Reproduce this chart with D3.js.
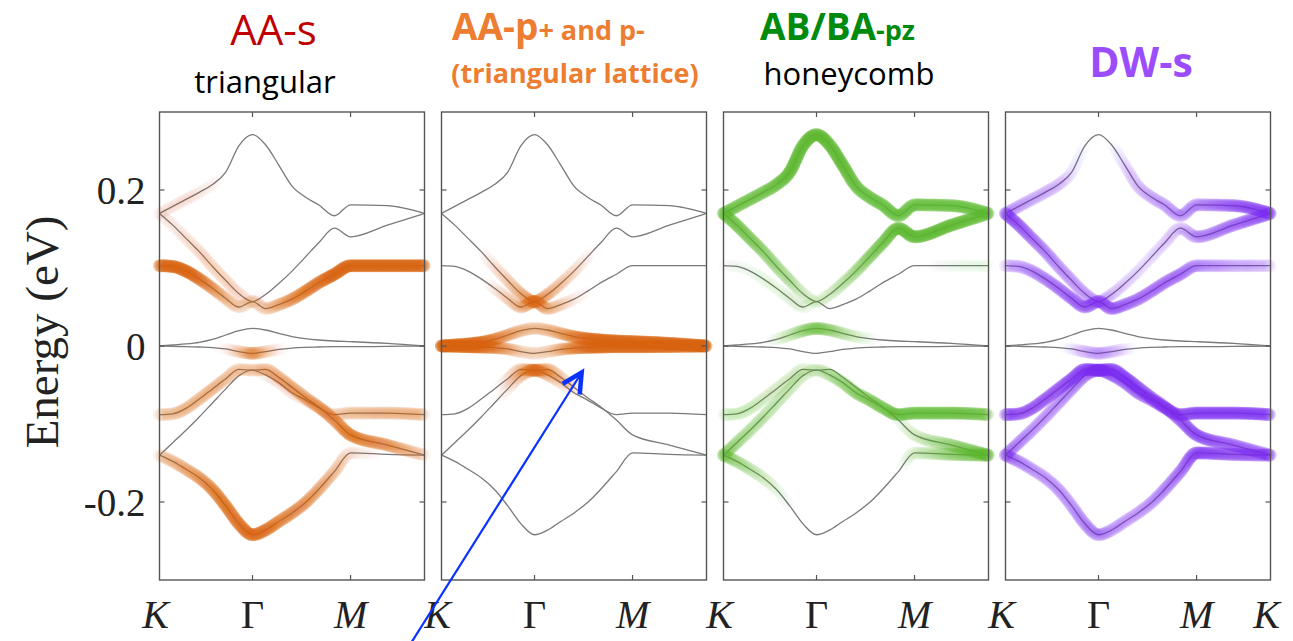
<!DOCTYPE html>
<html>
<head>
<meta charset="utf-8">
<script src="https://cdn.jsdelivr.net/npm/d3@7"></script>
<style>
  body { margin: 0; background: #fff; }
  text { font-family: "Liberation Serif", serif; }
  .ttl { font-family: "Open Sans", sans-serif; }
</style>
</head>
<body>
<svg id="chart"></svg>
<script>
const width = 1293;
const height = 641;

// k path K -> Gamma -> M -> K, normalised to 0..1
const kGrid = [0, 0.05, 0.10, 0.15, 0.20, 0.25, 0.30, 0.351, 0.40, 0.45, 0.50, 0.55, 0.60, 0.66, 0.721, 0.86, 1.0];
const kTicks = [0, 0.351, 0.721, 1];
const kLabels = ["K", "Γ", "M", "K"];
const energyTicks = [-0.2, 0, 0.2];

// band energies (eV) read at kGrid
const band1 = [-0.140, -0.148, -0.158, -0.169, -0.184, -0.205, -0.228, -0.242, -0.236, -0.225, -0.214, -0.201, -0.184, -0.161, -0.137, -0.139, -0.140];
const band2 = [-0.140, -0.124, -0.108, -0.091, -0.073, -0.055, -0.038, -0.031, -0.037, -0.047, -0.060, -0.069, -0.079, -0.088, -0.086, -0.086, -0.088];
const band3 = [-0.088, -0.087, -0.080, -0.068, -0.055, -0.042, -0.030, -0.031, -0.030, -0.040, -0.053, -0.066, -0.078, -0.095, -0.114, -0.127, -0.140];
const band4 = [0, -0.0003, -0.0009, -0.0013, -0.002, -0.0038, -0.0072, -0.0094, -0.0072, -0.0043, -0.0026, -0.0017, -0.0013, -0.0009, -0.0009, -0.0005, 0];
const band5 = [0, 0.0013, 0.0026, 0.0047, 0.0085, 0.0141, 0.0196, 0.0226, 0.0205, 0.0162, 0.012, 0.0094, 0.0077, 0.0064, 0.0056, 0.0034, 0];
const band6 = [0.103, 0.102, 0.096, 0.086, 0.074, 0.061, 0.050, 0.057, 0.048, 0.053, 0.060, 0.070, 0.081, 0.092, 0.103, 0.103, 0.103];
const band7 = [0.170, 0.155, 0.138, 0.121, 0.102, 0.084, 0.067, 0.057, 0.066, 0.080, 0.096, 0.114, 0.132, 0.151, 0.140, 0.155, 0.170];
const band8 = [0.170, 0.179, 0.188, 0.197, 0.207, 0.223, 0.257, 0.271, 0.258, 0.232, 0.205, 0.191, 0.181, 0.167, 0.181, 0.180, 0.170];
const bands = [band1, band2, band3, band4, band5, band6, band7, band8];

// orbital weight of each band (band1..band8) at kGrid, one table per panel
const zero = kGrid.map(() => 0);
const weightsAAs = [
  [.40, .50, .60, .70, .80, .85, .90, .95, .90, .80, .75, .70, .60, .45, .20, 0, 0],
  [0, 0, 0, 0, 0, 0, 0, 0, .15, .20, .20, .25, .30, .35, .45, .50, .50],
  [.45, .45, .50, .50, .50, .45, .40, .40, .50, .55, .60, .60, .65, .75, .85, .70, .35],
  [0, 0, 0, 0, 0, .10, .40, .80, .40, .10, 0, 0, 0, 0, 0, 0, 0],
  zero,
  [1, 1, 1, .90, .70, .50, .35, .30, .40, .60, .75, .85, .90, 1, 1, 1, 1],
  [.15, .15, .20, .25, .30, .30, .25, .20, 0, 0, 0, 0, 0, 0, 0, 0, 0],
  [.15, .20, .20, .15, .10, 0, 0, 0, 0, 0, 0, 0, 0, 0, 0, 0, 0]
];
const weightsAAp = [
  zero,
  [0, 0, 0, 0, 0, .15, .45, .85, .50, .25, .05, 0, 0, 0, 0, 0, 0],
  [0, 0, 0, 0, 0, .20, .50, .85, .60, .35, .15, 0, 0, 0, 0, 0, 0],
  [1, 1, 1, .95, .85, .60, .35, .30, .35, .60, .85, .95, 1, 1, 1, 1, 1],
  [1, 1, 1, .95, .85, .65, .50, .45, .50, .65, .85, .95, 1, 1, 1, 1, 1],
  [0, 0, 0, 0, .15, .35, .55, .85, .55, .35, .15, .05, 0, 0, 0, 0, 0],
  [0, 0, 0, .05, .20, .35, .55, .85, .55, .40, .25, .10, 0, 0, 0, 0, 0],
  zero
];
const weightsABpz = [
  [.80, .60, .45, .30, .15, .05, 0, 0, 0, 0, 0, 0, 0, 0, .30, .70, .90],
  [.80, .60, .50, .45, .40, .35, .30, .30, .50, .65, .75, .80, .85, .90, .90, .90, .85],
  [.35, .35, .35, .30, .30, .30, .25, .10, .05, 0, 0, 0, 0, .10, .30, .70, .90],
  zero,
  [0, 0, 0, 0, .15, .40, .70, .85, .70, .50, .25, .10, 0, 0, 0, 0, 0],
  [.05, .10, .10, .15, .15, .20, .20, .10, 0, 0, 0, 0, 0, 0, 0, .10, .15],
  [.90, .85, .80, .70, .60, .50, .30, .20, .30, .45, .60, .75, .85, .95, .95, .95, .90],
  [.90, .85, .85, .85, .90, .95, .95, 1, .95, .95, .90, .90, .90, .90, .90, .90, .90]
];
const weightsDWs = [
  [.80, .60, .55, .55, .55, .55, .60, .65, .55, .50, .50, .55, .60, .70, .90, .80, .80],
  [.70, .60, .55, .55, .55, .60, .70, .90, .80, .75, .75, .75, .80, .85, .90, .90, .90],
  [.90, .80, .80, .80, .80, .85, .90, 1, .90, .90, .85, .80, .80, .80, .85, .75, .70],
  [0, 0, 0, 0, 0, .15, .40, .55, .40, .15, 0, 0, 0, 0, 0, 0, 0],
  zero,
  [.45, .50, .60, .65, .70, .75, .80, .80, .80, .75, .70, .70, .70, .70, .60, .45, .35],
  [.90, .80, .70, .60, .55, .50, .50, .55, .35, .25, .20, .20, .25, .35, .60, .70, .85],
  [.60, .50, .45, .40, .35, .15, .05, 0, .05, .20, .35, .45, .50, .55, .60, .80, .90]
];

const panelWeights = [weightsAAs, weightsAAp, weightsABpz, weightsDWs];
const panelColors = ["#d9620c", "#d9620c", "#5cb82e", "#7a2af0"];

const panelW = 265;
const panelStep = 282;
const panelX0 = 159.5;
const radius = 6.5;
const sampleStep = 1.5;

const svg = d3.select("#chart")
    .attr("width", width)
    .attr("height", height);

svg.append("defs").append("filter")
    .attr("id", "soft")
    .attr("x", "-5%").attr("y", "-5%").attr("width", "110%").attr("height", "110%")
    .append("feGaussianBlur")
    .attr("stdDeviation", 0.7);

const y = d3.scaleLinear().domain([-0.3, 0.3]).range([580, 112]);

const xScales = [];

panelWeights.forEach((weights, p) => {
    const left = panelX0 + p * panelStep;
    const x = d3.scaleLinear().domain([0, 1]).range([left, left + panelW]);
    xScales.push(x);

    const g = svg.append("g");

    const line = d3.line()
        .x((d, i) => x(kGrid[i]))
        .y(d => y(d))
        .curve(d3.curveMonotoneX);

    const paths = g.selectAll("path.band")
        .data(bands)
        .join("path")
        .attr("class", "band")
        .attr("d", line)
        .attr("fill", "none")
        .attr("stroke", "#7a7a7a")
        .attr("stroke-width", 1.3);

    // fat bands: circles along each band, opacity from weight
    const fat = g.append("g").attr("filter", "url(#soft)");
    const n = 2 * radius / sampleStep;
    paths.each(function(d, b) {
        const w = weights[b];
        if (d3.max(w) <= 0) return;
        const wScale = d3.scaleLinear().domain(kGrid.map(k => x(k))).range(w).clamp(true);
        const len = this.getTotalLength();
        const pts = [];
        for (let s = 0; s <= len; s += sampleStep) {
            const pt = this.getPointAtLength(s);
            const wt = wScale(pt.x);
            if (wt > 0.02) pts.push({ x: pt.x, y: pt.y, a: 1 - Math.pow(1 - Math.min(wt, 0.97), 1 / n) });
        }
        fat.selectAll(null)
            .data(pts)
            .join("circle")
            .attr("cx", q => q.x)
            .attr("cy", q => q.y)
            .attr("r", radius)
            .attr("fill", panelColors[p])
            .attr("fill-opacity", q => q.a);
    });

    // frame and ticks
    g.append("rect")
        .attr("x", x(0)).attr("y", y(0.3))
        .attr("width", panelW).attr("height", y(-0.3) - y(0.3))
        .attr("fill", "none")
        .attr("stroke", "#555")
        .attr("stroke-width", 1.4);

    const inner = kTicks.slice(1, 3);
    g.selectAll("line.xt")
        .data(inner.flatMap(k => [[k, y(-0.3), y(-0.3) - 5], [k, y(0.3), y(0.3) + 5]]))
        .join("line")
        .attr("x1", d => x(d[0])).attr("x2", d => x(d[0]))
        .attr("y1", d => d[1]).attr("y2", d => d[2])
        .attr("stroke", "#555").attr("stroke-width", 1.2);
    g.selectAll("line.yt")
        .data(energyTicks.flatMap(e => [[e, x(0), x(0) + 5], [e, x(1), x(1) - 5]]))
        .join("line")
        .attr("y1", d => y(d[0])).attr("y2", d => y(d[0]))
        .attr("x1", d => d[1]).attr("x2", d => d[2])
        .attr("stroke", "#555").attr("stroke-width", 1.2);

    // x labels
    const shown = p === 3 ? [0, 1, 2, 3] : [0, 1, 2];
    g.selectAll("text.xl")
        .data(shown)
        .join("text")
        .attr("x", i => x(kTicks[i]) + (kLabels[i] === "K" ? -4 : 0))
        .attr("y", 628)
        .attr("text-anchor", "middle")
        .attr("font-size", 40)
        .attr("font-style", i => kLabels[i] === "Γ" ? "normal" : "italic")
        .attr("fill", "#222")
        .text(i => kLabels[i]);

    if (p === 0) {
        g.selectAll("text.yl")
            .data(energyTicks)
            .join("text")
            .attr("x", x(0) - 14)
            .attr("y", e => y(e))
            .attr("dy", "0.35em")
            .attr("text-anchor", "end")
            .attr("font-size", 39)
            .attr("fill", "#222")
            .text(e => e === 0 ? "0" : d3.format(".1f")(e).replace("−", "-"));
    }
});

svg.append("text")
    .attr("transform", "translate(58,332) rotate(-90)")
    .attr("text-anchor", "middle")
    .attr("font-size", 47)
    .attr("fill", "#222")
    .text("Energy (eV)");

// titles
function title(xPos, yPos, parts, anchor) {
    const t = svg.append("text")
        .attr("class", "ttl")
        .attr("x", xPos).attr("y", yPos)
        .attr("text-anchor", anchor || "start");
    parts.forEach(pt => {
        t.append("tspan")
            .attr("font-size", pt.size)
            .attr("font-weight", pt.bold ? 700 : 400)
            .attr("fill", pt.color)
            .text(pt.text);
    });
}
title(273.5, 45, [{ text: "AA-s", size: 42, color: "#c00000" }], "middle");
title(265, 93, [{ text: "triangular", size: 31, color: "#000" }], "middle");
title(452, 40, [{ text: "AA-p", size: 37, bold: true, color: "#ed7d31" },
                { text: "+ and p-", size: 27, bold: true, color: "#ed7d31" }]);
title(575, 83, [{ text: "(triangular lattice)", size: 27, bold: true, color: "#ed7d31" }], "middle");
title(760, 40, [{ text: "AB/BA", size: 37, bold: true, color: "#008a0e" },
                { text: "-pz", size: 27, bold: true, color: "#008a0e" }]);
title(849, 85, [{ text: "honeycomb", size: 31, color: "#000" }], "middle");
title(1141, 77, [{ text: "DW-s", size: 41, bold: true, color: "#9b4dfc" }], "middle");

// blue annotation arrow pointing at the p-band in panel 2
const xa = xScales[1];
const tail = [xa(-0.119), y(-0.383)];
const tip = [xa(0.529), y(-0.034)];
const ang = Math.atan2(tail[1] - tip[1], tail[0] - tip[0]);
const arm = 22, spread = 27 * Math.PI / 180;
svg.append("line")
    .attr("x1", tail[0]).attr("y1", tail[1])
    .attr("x2", tip[0]).attr("y2", tip[1])
    .attr("stroke", "#0a32ff")
    .attr("stroke-width", 2.2);
svg.append("path")
    .attr("d", d3.line()([
        [tip[0] + arm * Math.cos(ang + spread), tip[1] + arm * Math.sin(ang + spread)],
        tip,
        [tip[0] + arm * Math.cos(ang - spread), tip[1] + arm * Math.sin(ang - spread)]
    ]))
    .attr("fill", "none")
    .attr("stroke", "#0a32ff")
    .attr("stroke-width", 4.5)
    .attr("stroke-linejoin", "miter");
</script>
</body>
</html>
